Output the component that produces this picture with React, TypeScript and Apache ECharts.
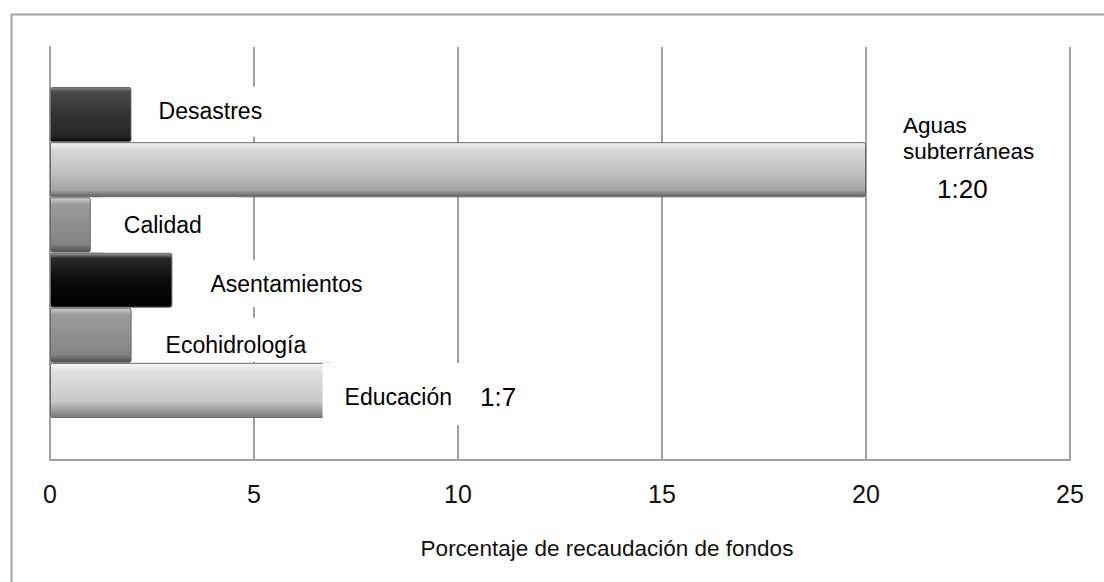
import React, { useEffect, useRef } from "react";
import * as echarts from "echarts";

const categories = ["Desastres", "Aguas subterráneas", "Calidad", "Asentamientos", "Ecohidrología", "Educación"];
const values = [2, 20, 1, 3, 2, 7];
const ratioLabels = ["", "1:20", "", "", "", "1:7"];
const xTicks = [0, 5, 10, 15, 20, 25];
const axisTitle = "Porcentaje de recaudación de fondos";

const FONT = "'Liberation Sans', Arial, Helvetica, sans-serif";

function grad(stops: [number, string][]) {
  return new echarts.graphic.LinearGradient(0, 0, 0, 1, stops.map(([offset, color]) => ({ offset, color })));
}

const fills = [
  grad([[0, "#8a8a8a"], [0.08, "#4a4a4a"], [0.5, "#333333"], [0.9, "#262626"], [1, "#050505"]]),
  grad([[0, "#f4f4f4"], [0.12, "#d8d8d8"], [0.6, "#bdbdbd"], [0.88, "#a2a2a2"], [1, "#5e5e5e"]]),
  grad([[0, "#cfcfcf"], [0.12, "#9c9c9c"], [0.85, "#838383"], [1, "#4e4e4e"]]),
  grad([[0, "#a0a0a0"], [0.1, "#2a2a2a"], [0.5, "#0c0c0c"], [1, "#000000"]]),
  grad([[0, "#cfcfcf"], [0.12, "#9c9c9c"], [0.85, "#858585"], [1, "#4e4e4e"]]),
  grad([[0, "#f6f6f6"], [0.15, "#e0e0e0"], [0.7, "#c9c9c9"], [1, "#7a7a7a"]]),
];

const labelCfg: any[] = [
  { distance: 0, offset: [0, -3], padding: [11, 36, 12, 27], bg: "#fff" },
  { distance: 37, offset: [0, -7], padding: [0, 0, 0, 0], bg: "transparent" },
  { distance: 12, offset: [0, 0], padding: [14, 37, 14, 21], bg: "#fff" },
  { distance: 14, offset: [0, 3.5], padding: [10, 20, 10, 24], bg: "#fff" },
  { distance: 10, offset: [0, 4.4], padding: [13.5, 20, 3.5, 24], bg: "#fff" },
  { distance: 0, offset: [-13, 3.5], padding: [20.5, 14, 14.5, 22], bg: "#fff" },
];

export default function App() {
  const ref = useRef<HTMLDivElement>(null);
  useEffect(() => {
    if (!ref.current) return;
    const chart = echarts.init(ref.current, undefined, { renderer: "svg" });

    const data = categories.map((name, i) => {
      const c = labelCfg[i];
      let formatter: string;
      if (i === 1) {
        const parts = name.split(" ");
        formatter = `{g|${parts[0]}}\n{g|${parts[1]}}\n{b|${ratioLabels[i]}}`;
      } else if (ratioLabels[i]) {
        formatter = `{a|${name}}{c|${ratioLabels[i]}}`;
      } else {
        formatter = `{a|${name}}`;
      }
      return {
        value: values[i],
        name,
        itemStyle: { color: fills[i] },
        label: {
          show: true,
          position: "right",
          distance: c.distance,
          offset: c.offset,
          formatter,
          backgroundColor: c.bg,
          padding: c.padding,
          rich: {
            a: { fontFamily: FONT, fontSize: 23, color: "#000", lineHeight: 27 },
            g: { fontFamily: FONT, fontSize: 22.5, color: "#000", lineHeight: 26 },
            b: { fontFamily: FONT, fontSize: 26, color: "#000", lineHeight: 48, padding: [0, 0, 0, 34] },
            c: { fontFamily: FONT, fontSize: 26, color: "#000", lineHeight: 27, padding: [0, 0, 0, 28] },
          },
        },
      };
    });

    chart.setOption({
      animation: false,
      backgroundColor: "#fff",
      graphic: [
        {
          type: "rect",
          left: 9,
          top: 12,
          shape: { width: 1300, height: 800 },
          style: { fill: "none", stroke: "#a0a0a0", lineWidth: 2 },
          z: -10,
          silent: true,
        },
      ],
      grid: [
        { left: 50, right: 34, top: 47, bottom: 122, containLabel: false },
        { left: 50, right: 34, top: 87, bottom: 164, containLabel: false },
      ],
      xAxis: [
        {
          gridIndex: 0,
          type: "value",
          min: xTicks[0],
          max: xTicks[xTicks.length - 1],
          interval: 5,
          axisLine: { show: true, lineStyle: { color: "#a0a0a0", width: 2 } },
          axisTick: { show: false },
          axisLabel: {
            margin: 21,
            fontFamily: FONT,
            fontSize: 25,
            color: "#111",
          },
          splitLine: { show: true, lineStyle: { color: "#a0a0a0", width: 2 } },
          name: axisTitle,
          nameLocation: "middle",
          nameGap: 77,
          nameTextStyle: { fontFamily: FONT, fontSize: 22.5, color: "#111", padding: [0, 0, 0, 94] },
        },
        {
          gridIndex: 1,
          type: "value",
          min: xTicks[0],
          max: xTicks[xTicks.length - 1],
          show: false,
        },
      ],
      yAxis: [
        {
          gridIndex: 0,
          type: "category",
          data: categories,
          show: true,
          axisLine: { show: true, lineStyle: { color: "#a0a0a0", width: 2 } },
          axisTick: { show: false },
          axisLabel: { show: false },
          splitLine: { show: false },
        },
        {
          gridIndex: 1,
          type: "category",
          data: categories,
          inverse: true,
          show: false,
        },
      ],
      series: [
        {
          type: "bar",
          xAxisIndex: 1,
          yAxisIndex: 1,
          barCategoryGap: "0%",
          data,
          itemStyle: { borderColor: "#6a6a6a", borderWidth: 1, borderRadius: 2 },
          z: 3,
        },
      ],
    });
    return () => chart.dispose();
  }, []);

  return (
    <div
      ref={ref}
      style={{ position: "fixed", left: 0, top: 0, width: 1104, height: 582, background: "#fff" }}
    />
  );
}
